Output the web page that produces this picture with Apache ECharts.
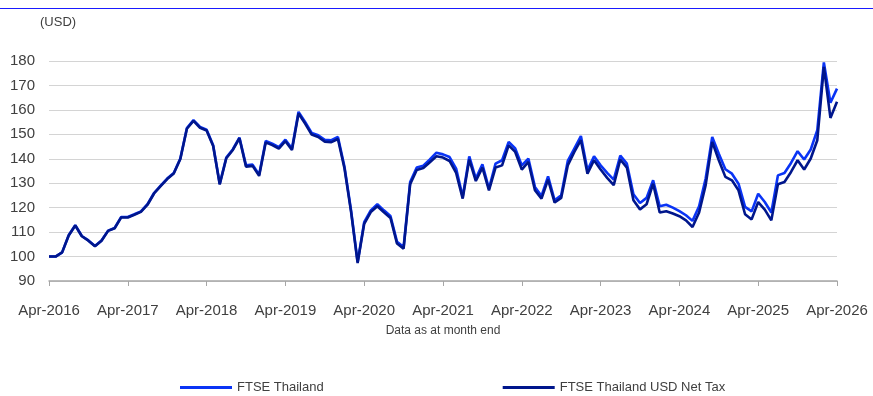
<!DOCTYPE html>
<html>
<head>
<meta charset="utf-8">
<script src="https://cdn.jsdelivr.net/npm/echarts@6/dist/echarts.min.js"></script>
<style>
  html, body { margin: 0; padding: 0; background: #ffffff; }
  #chart { width: 873px; height: 396px; }
</style>
</head>
<body>
<div id="chart"></div>
<script>
// Monthly index levels, Apr-2016 .. Apr-2026 (base 100)
const startYear = 2016;
const startMonth = 3; // April (0-based)
const monthNames = ['Jan', 'Feb', 'Mar', 'Apr', 'May', 'Jun', 'Jul', 'Aug', 'Sep', 'Oct', 'Nov', 'Dec'];

const ftseThailand = [
  100.0, 100.0, 101.7, 108.7, 112.8, 108.4, 106.6, 104.3, 106.6, 110.6, 111.7, 116.2,
  116.2, 117.3, 118.5, 121.4, 126.0, 129.0, 131.9, 134.2, 140.1, 152.6, 155.8, 153.0,
  151.9, 145.5, 129.8, 140.5, 143.9, 148.7, 137.3, 137.6, 133.5, 147.3, 146.2, 144.8,
  147.8, 144.2, 159.2, 155.1, 150.6, 149.6, 147.8, 147.6, 148.9, 136.7, 118.9, 97.8,
  114.1, 118.9, 121.4, 118.9, 116.6, 106.0, 103.9, 130.5, 136.4, 137.2, 139.7, 142.5,
  141.8, 140.7, 136.0, 124.4, 141.0, 131.9, 137.7, 127.8, 138.0, 139.4, 146.9, 144.2,
  137.3, 140.1, 128.5, 124.8, 132.8, 123.0, 125.1, 139.1, 144.2, 149.3, 135.3, 141.0,
  137.3, 134.2, 131.5, 141.3, 138.0, 125.5, 121.9, 124.0, 131.2, 120.6, 121.2, 120.0,
  118.6, 116.9, 114.6, 120.6, 131.9, 148.9, 142.1, 135.7, 133.9, 129.8, 120.3, 118.5,
  125.7, 122.3, 118.0, 133.2, 134.2, 138.3, 143.1, 139.7, 143.8, 151.7, 179.4, 162.9,
  168.7
];

const ftseThailandNetTax = [
  100.0, 100.0, 101.7, 108.6, 112.7, 108.3, 106.5, 104.2, 106.5, 110.5, 111.6, 116.0,
  116.0, 117.1, 118.3, 121.2, 125.8, 128.8, 131.7, 134.0, 139.9, 152.3, 155.5, 152.7,
  151.6, 145.2, 129.5, 140.2, 143.6, 148.4, 136.8, 137.1, 133.0, 146.7, 145.6, 144.2,
  147.2, 143.6, 158.5, 154.4, 149.9, 148.9, 147.0, 146.8, 148.1, 136.0, 118.3, 97.3,
  113.4, 118.2, 120.6, 118.1, 115.8, 105.3, 103.2, 129.6, 135.4, 136.2, 138.6, 141.0,
  140.5, 139.1, 134.2, 123.7, 139.7, 130.9, 136.4, 127.1, 136.4, 137.3, 145.5, 142.8,
  135.6, 138.7, 127.1, 123.7, 131.5, 122.1, 124.0, 137.3, 142.8, 147.6, 133.9, 139.4,
  135.6, 132.2, 129.2, 139.7, 136.4, 123.0, 119.3, 121.4, 129.8, 118.0, 118.5, 117.6,
  116.5, 114.8, 112.1, 118.0, 129.2, 146.9, 139.4, 132.6, 131.2, 127.1, 117.3, 115.2,
  122.3, 119.2, 114.8, 129.6, 130.5, 134.6, 139.4, 135.6, 140.1, 147.6, 177.6, 156.7,
  163.3
];

// Month-end category labels, e.g. "Apr-2016"
const categories = ftseThailand.map((_, i) => {
  const m = startMonth + i;
  return monthNames[m % 12] + '-' + (startYear + Math.floor(m / 12));
});

const yMin = 90, yMax = 180, yStep = 10;
const labelColor = '#404040';
const brightBlue = '#0a34f5';
const navy = '#00168c';
const fontFamily = '"Liberation Sans", Arial, sans-serif';

const chart = echarts.init(document.getElementById('chart'), null, { renderer: 'canvas' });

chart.setOption({
  animation: false,
  backgroundColor: '#ffffff',
  textStyle: { fontFamily: fontFamily },
  grid: { left: 49, right: 36, top: 61, bottom: 115, containLabel: false },
  graphic: [
    {
      type: 'line',
      shape: { x1: 0, y1: 8.5, x2: 873, y2: 8.5 },
      style: { stroke: '#1a1aff', lineWidth: 1.2 },
      silent: true
    },
    {
      type: 'text',
      x: 40, y: 16,
      style: { text: '(USD)', fill: labelColor, font: '13px ' + fontFamily }
    },
    {
      type: 'text',
      x: 443, y: 325,
      style: { text: 'Data as at month end', fill: labelColor, font: '12px ' + fontFamily, align: 'center', textAlign: 'center' }
    }
  ],
  legend: {
    left: 175,
    top: 376,
    itemGap: 179,
    itemWidth: 52,
    itemHeight: 3,
    icon: 'rect',
    textStyle: { color: labelColor, fontSize: 13, fontFamily: fontFamily },
    data: [
      { name: 'FTSE Thailand', itemStyle: { color: brightBlue } },
      { name: 'FTSE Thailand USD Net Tax', itemStyle: { color: navy } }
    ]
  },
  xAxis: {
    type: 'category',
    data: categories,
    boundaryGap: false,
    axisLine: { lineStyle: { color: '#a6a6a6', width: 1.5 } },
    axisTick: { interval: 11, length: 5, lineStyle: { color: '#a6a6a6', width: 1 } },
    axisLabel: { interval: 11, margin: 22, color: labelColor, fontSize: 15, fontFamily: fontFamily },
    splitLine: { show: false }
  },
  yAxis: {
    type: 'value',
    min: yMin,
    max: yMax,
    interval: yStep,
    axisLine: { show: false },
    axisTick: { show: false },
    axisLabel: { margin: 14, color: labelColor, fontSize: 15, fontFamily: fontFamily },
    splitLine: { lineStyle: { color: '#d4d4d4', width: 1.2 } }
  },
  series: [
    {
      name: 'FTSE Thailand',
      type: 'line',
      data: ftseThailand,
      symbol: 'none',
      lineStyle: { color: brightBlue, width: 2.6 },
      itemStyle: { color: brightBlue },
      z: 2
    },
    {
      name: 'FTSE Thailand USD Net Tax',
      type: 'line',
      data: ftseThailandNetTax,
      symbol: 'none',
      lineStyle: { color: navy, width: 2.6 },
      itemStyle: { color: navy },
      z: 3
    }
  ]
});
</script>
</body>
</html>
